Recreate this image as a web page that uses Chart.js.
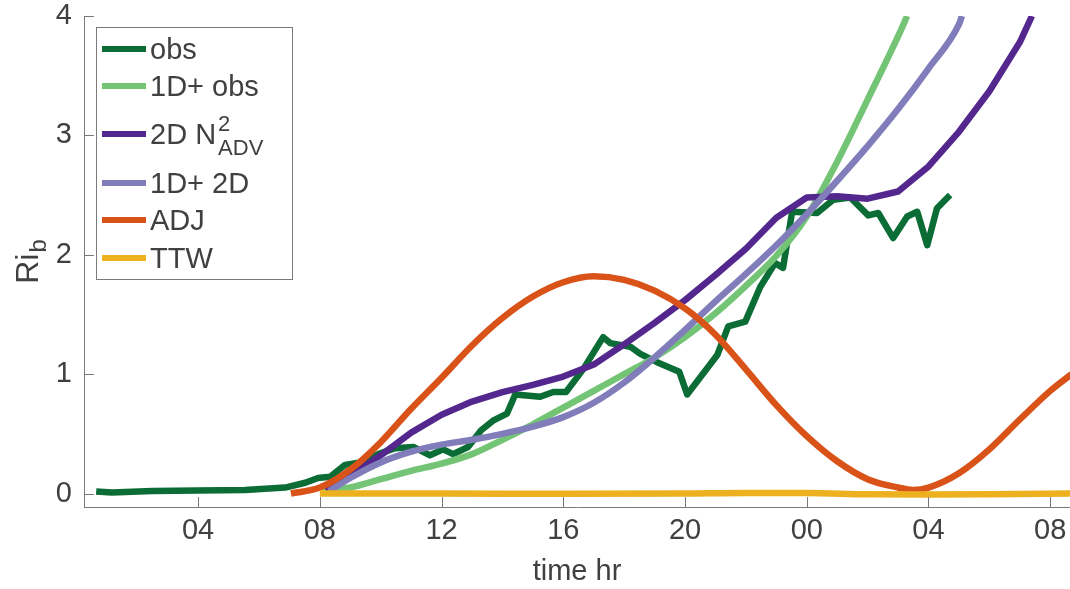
<!DOCTYPE html>
<html>
<head>
<meta charset="utf-8">
<script src="https://cdn.jsdelivr.net/npm/chart.js@4.4.0/dist/chart.umd.min.js"></script>
<style>
  html, body { margin: 0; padding: 0; background: #fff; }
  canvas { display: block; }
</style>
</head>
<body>
<canvas id="riChart" width="1070" height="589"></canvas>
<script>
// hours counted from 00 of the first day (24 = 00 next day)
const obsHours = [0.65, 1.17, 2.49, 4.0, 5.54, 6.86, 7.52, 7.94, 8.34, 8.83, 9.32, 9.92, 10.47, 11.07, 11.62, 12.05, 12.38, 12.87, 13.30, 13.69, 14.15, 14.42, 15.24, 15.67, 16.09, 16.65, 17.31, 17.54, 18.20, 18.53, 19.08, 19.81, 20.07, 21.06, 21.42, 21.98, 22.47, 22.96, 23.22, 23.52, 24.34, 24.87, 25.43, 26.02, 26.35, 26.84, 27.30, 27.63, 27.96, 28.28, 28.71];
const obsRi = [0.017, 0.008, 0.02, 0.025, 0.03, 0.05, 0.09, 0.13, 0.14, 0.24, 0.26, 0.33, 0.38, 0.39, 0.32, 0.37, 0.33, 0.39, 0.53, 0.61, 0.67, 0.83, 0.81, 0.85, 0.85, 1.04, 1.31, 1.26, 1.23, 1.17, 1.10, 1.02, 0.83, 1.16, 1.40, 1.44, 1.73, 1.93, 1.89, 2.36, 2.35, 2.46, 2.48, 2.33, 2.35, 2.14, 2.32, 2.36, 2.08, 2.39, 2.50];

const obs1dHours = [8.1, 9, 10, 11, 12, 13, 14, 15, 16, 17, 18, 19, 20, 21, 22, 23, 24, 25, 26, 27, 27.3];
const obs1dRi = [0.02, 0.05, 0.12, 0.19, 0.25, 0.33, 0.45, 0.58, 0.72, 0.86, 1.00, 1.14, 1.31, 1.51, 1.74, 1.99, 2.32, 2.78, 3.30, 3.83, 4.0];

const adv2dHours = [8.2, 9, 10, 11, 12, 13, 14, 15, 16, 17, 18, 19, 20, 21, 22, 23, 24, 25, 26, 27, 28, 29, 30, 31, 31.4];
const adv2dRi = [0.03, 0.15, 0.32, 0.51, 0.66, 0.77, 0.85, 0.91, 0.98, 1.08, 1.25, 1.43, 1.62, 1.83, 2.05, 2.31, 2.48, 2.49, 2.47, 2.53, 2.74, 3.03, 3.37, 3.78, 4.0];

const d1d2Hours = [8.3, 9, 10, 11, 12, 13, 14, 15, 16, 17, 18, 19, 20, 21, 22, 23, 24, 25, 26, 27, 28, 29, 29.1];
const d1d2Ri = [0.02, 0.13, 0.26, 0.35, 0.41, 0.45, 0.50, 0.56, 0.64, 0.76, 0.93, 1.14, 1.37, 1.61, 1.84, 2.08, 2.34, 2.62, 2.91, 3.22, 3.56, 3.93, 4.0];

const adjHours = [7.05, 8, 9, 10, 11, 12, 13, 14, 15, 16, 17, 18, 19, 20, 21, 22, 23, 24, 25, 26, 27, 27.5, 28, 29, 30, 31, 32, 32.7];
const adjRi = [0.0, 0.05, 0.20, 0.43, 0.71, 0.97, 1.24, 1.47, 1.65, 1.77, 1.82, 1.79, 1.70, 1.55, 1.33, 1.04, 0.74, 0.48, 0.27, 0.12, 0.05, 0.03, 0.05, 0.17, 0.37, 0.62, 0.86, 1.0];

const ttwHours = [8.0, 12, 16, 20, 22, 24, 26, 28, 30, 32.7];
const ttwRi = [0.0, 0.0, -0.003, 0.0, 0.005, 0.004, -0.006, -0.008, -0.006, 0.0];

const seriesLabels = ["obs", "1D+ obs", "2D N^2_ADV", "1D+ 2D", "ADJ", "TTW"];
const seriesColors = ["#0b6d35", "#74c476", "#54278f", "#807dba", "#d95319", "#edb120"];

const xTickHours = [4, 8, 12, 16, 20, 24, 28, 32];
const yTickValues = [0, 1, 2, 3, 4];

const FONT = "Helvetica, Arial, 'Liberation Sans', sans-serif";
const TEXT_COLOR = "#404040";
const AXIS_COLOR = "#7a7a7a";

function pts(xs, ys) {
  return xs.map((x, i) => ({ x: x, y: ys[i] }));
}

// legend text with ^ (superscript) and _ (subscript)
function drawRich(ctx, text, x, y, size) {
  const m = text.match(/^([^\^_]*)(?:\^([^_]*))?(?:_(.*))?$/);
  ctx.font = size + "px " + FONT;
  ctx.fillText(m[1], x, y);
  let cx = x + ctx.measureText(m[1]).width + 2;
  ctx.font = Math.round(size * 0.76) + "px " + FONT;
  if (m[2]) ctx.fillText(m[2], cx, y - 11);
  if (m[3]) ctx.fillText(m[3], cx, y + 13);
}

const matlabLook = {
  id: "matlabLook",
  afterDraw(chart) {
    const ctx = chart.ctx;
    const area = chart.chartArea;
    const xs = chart.scales.x;
    const ys = chart.scales.y;
    ctx.save();

    // inward tick marks
    ctx.strokeStyle = AXIS_COLOR;
    ctx.lineWidth = 1;
    ctx.beginPath();
    xTickHours.forEach(h => {
      const px = Math.round(xs.getPixelForValue(h)) + 0.5;
      ctx.moveTo(px, area.bottom);
      ctx.lineTo(px, area.bottom - 10);
    });
    yTickValues.forEach(v => {
      const py = Math.round(ys.getPixelForValue(v)) + 0.5;
      ctx.moveTo(area.left, py);
      ctx.lineTo(area.left + 10, py);
    });
    ctx.stroke();

    // y axis title Ri_b, centred on the axis
    ctx.fillStyle = TEXT_COLOR;
    ctx.font = "32px " + FONT;
    const wRi = ctx.measureText("Ri").width;
    ctx.font = "24px " + FONT;
    const wB = ctx.measureText("b").width;
    const midY = (area.top + area.bottom) / 2;
    ctx.translate(38, midY + (wRi + wB + 1) / 2);
    ctx.rotate(-Math.PI / 2);
    ctx.textBaseline = "alphabetic";
    ctx.textAlign = "left";
    ctx.font = "32px " + FONT;
    ctx.fillText("Ri", 0, 0);
    ctx.font = "24px " + FONT;
    ctx.fillText("b", wRi + 1, 8);
    ctx.setTransform(1, 0, 0, 1, 0, 0);

    // legend box
    const bx = 96.5, by = 27.5, bw = 196, bh = 252;
    ctx.fillStyle = "#fff";
    ctx.fillRect(bx, by, bw, bh);
    ctx.strokeStyle = AXIS_COLOR;
    ctx.strokeRect(bx, by, bw, bh);
    const rowY = [49, 86, 134, 183, 220, 258];
    chart.data.datasets.forEach((ds, i) => {
      const y = rowY[i];
      ctx.strokeStyle = ds.borderColor;
      ctx.lineWidth = 6;
      ctx.beginPath();
      ctx.moveTo(102, y);
      ctx.lineTo(146, y);
      ctx.stroke();
      ctx.fillStyle = TEXT_COLOR;
      ctx.textBaseline = "middle";
      drawRich(ctx, seriesLabels[i], 150, y + 2, 29);
    });
    ctx.restore();
  }
};

const lineStyle = {
  borderWidth: 6.5,
  pointRadius: 0,
  fill: false,
  borderCapStyle: "butt",
  borderJoinStyle: "round"
};

new Chart(document.getElementById("riChart"), {
  type: "line",
  data: {
    datasets: [
      { ...lineStyle, label: "obs", data: pts(obsHours, obsRi), borderColor: seriesColors[0], tension: 0, order: 6 },
      { ...lineStyle, label: "1D+ obs", data: pts(obs1dHours, obs1dRi), borderColor: seriesColors[1], cubicInterpolationMode: "monotone", order: 5 },
      { ...lineStyle, label: "2D N2 ADV", data: pts(adv2dHours, adv2dRi), borderColor: seriesColors[2], tension: 0, order: 4 },
      { ...lineStyle, label: "1D+ 2D", data: pts(d1d2Hours, d1d2Ri), borderColor: seriesColors[3], cubicInterpolationMode: "monotone", order: 3 },
      { ...lineStyle, label: "ADJ", data: pts(adjHours, adjRi), borderColor: seriesColors[4], cubicInterpolationMode: "monotone", order: 2 },
      { ...lineStyle, label: "TTW", data: pts(ttwHours, ttwRi), borderColor: seriesColors[5], cubicInterpolationMode: "monotone", order: 1 }
    ]
  },
  options: {
    responsive: false,
    animation: false,
    layout: { padding: { top: 16, left: 0, right: 0, bottom: 0 } },
    plugins: {
      legend: { display: false },
      tooltip: { enabled: false }
    },
    scales: {
      x: {
        type: "linear",
        min: 0.25,
        max: 32.65,
        afterBuildTicks: s => { s.ticks = xTickHours.map(v => ({ value: v })); },
        afterFit: s => { s.height = 82; s.paddingLeft = 0; s.paddingRight = 0; },
        grid: { display: false, drawTicks: false },
        border: { display: true, color: AXIS_COLOR, width: 1 },
        ticks: {
          color: TEXT_COLOR,
          font: { family: FONT, size: 29 },
          padding: 7,
          maxRotation: 0,
          callback: v => String(v % 24).padStart(2, "0")
        },
        title: {
          display: true,
          text: "time hr",
          color: TEXT_COLOR,
          font: { family: FONT, size: 29 },
          padding: { top: 0, bottom: 0 }
        }
      },
      y: {
        min: -0.113,
        max: 4,
        afterBuildTicks: s => { s.ticks = yTickValues.map(v => ({ value: v })); },
        afterFit: s => { s.width = 84; s.paddingTop = 0; s.paddingBottom = 0; },
        grid: { display: false, drawTicks: false },
        border: { display: true, color: AXIS_COLOR, width: 1 },
        ticks: {
          color: TEXT_COLOR,
          font: { family: FONT, size: 29 },
          padding: 12
        }
      }
    }
  },
  plugins: [matlabLook]
});
</script>
</body>
</html>
